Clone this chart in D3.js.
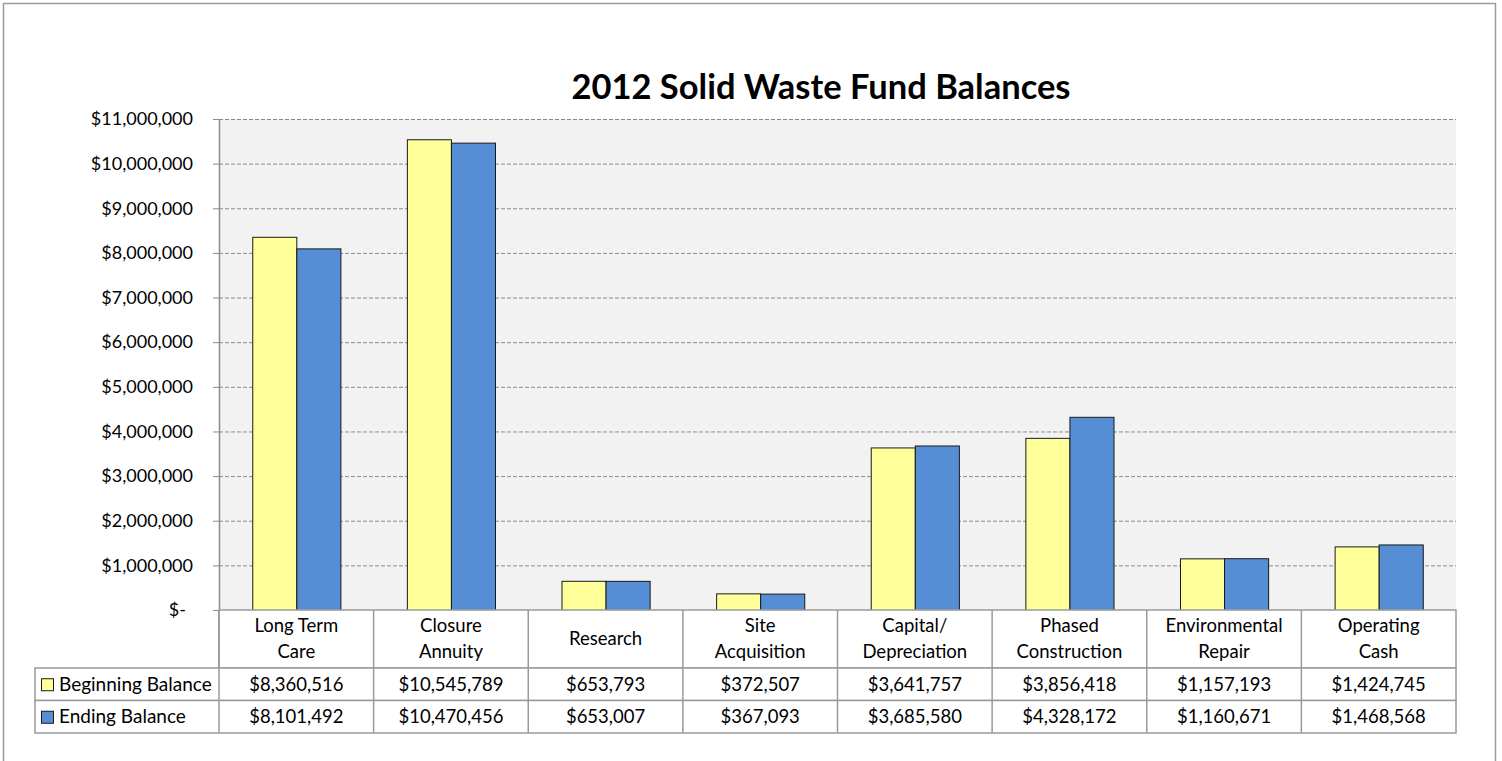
<!DOCTYPE html>
<html>
<head>
<meta charset="utf-8">
<script src="https://cdn.jsdelivr.net/npm/d3@7"></script>
<style>
    body { margin: 0; background: #fff; }
    text { font-family: Lato, "Open Sans", sans-serif; fill: #000; }
</style>
</head>
<body>
<div id="chart"></div>
<script>
// Chart data
const categories = [
    "Long Term\nCare",
    "Closure\nAnnuity",
    "Research",
    "Site\nAcquisition",
    "Capital/\nDepreciation",
    "Phased\nConstruction",
    "Environmental\nRepair",
    "Operating\nCash",
];
const seriesNames = ["Beginning Balance", "Ending Balance"];
const beginning = [8360516, 10545789, 653793, 372507, 3641757, 3856418, 1157193, 1424745];
const ending = [8101492, 10470456, 653007, 367093, 3685580, 4328172, 1160671, 1468568];
const yTicks = [0, 1e6, 2e6, 3e6, 4e6, 5e6, 6e6, 7e6, 8e6, 9e6, 10e6, 11e6];
const colors = ["#FFFF99", "#558ED5"];
const title = "2012 Solid Waste Fund Balances";

let width = 1502,
    height = 761,
    plot = { left: 219, right: 1456, top: 119, bottom: 610 };

const svg = d3
    .select("#chart")
    .append("svg")
    .attr("width", width)
    .attr("height", height);

// Outer chart border (bottom edge runs off the picture)
svg.append("rect")
    .attr("x", 3.5)
    .attr("y", 3.5)
    .attr("width", 1492)
    .attr("height", 770)
    .attr("fill", "#fff")
    .attr("stroke", "#9a9a9a")
    .attr("stroke-width", 1.5);

svg.append("text")
    .attr("x", 821)
    .attr("y", 99)
    .attr("text-anchor", "middle")
    .style("font-size", "34.5px")
    .style("font-weight", "bold")
    .text(title);

// Plot background
svg.append("rect")
    .attr("x", plot.left)
    .attr("y", plot.top)
    .attr("width", plot.right - plot.left)
    .attr("height", plot.bottom - plot.top)
    .attr("fill", "#F2F2F2");

let x0 = d3
    .scaleBand()
    .domain(categories)
    .range([plot.left, plot.right])
    .padding(0);

let x1 = d3
    .scaleBand()
    .domain(seriesNames)
    .range([x0.bandwidth() * 0.215, x0.bandwidth() * 0.785]);

let y = d3
    .scaleLinear()
    .domain([0, 11e6])
    .range([plot.bottom, plot.top]);

// Gridlines
const grid = svg.append("g")
    .attr("transform", `translate(${plot.left},0)`)
    .call(d3.axisLeft(y).tickValues(yTicks.slice(1)).tickSize(-(plot.right - plot.left)).tickFormat(""));
grid.select(".domain").remove();
grid.selectAll("line")
    .attr("stroke", "#8c8c8c")
    .attr("stroke-dasharray", "4,2");

// Y axis
const money = d3.format(",");
const yAxis = svg.append("g")
    .attr("transform", `translate(${plot.left},0)`)
    .call(
        d3.axisLeft(y)
            .tickValues(yTicks)
            .tickSize(6)
            .tickPadding(20)
            .tickSizeOuter(0)
            .tickFormat((d) => (d === 0 ? "$-" : "$" + money(d)))
    );
yAxis.select(".domain").attr("stroke", "#8c8c8c").attr("stroke-width", 1.5);
yAxis.selectAll(".tick line").attr("stroke", "#8c8c8c");
yAxis.selectAll("text")
    .style("font-size", "18px")
    .attr("font-family", null);
yAxis.selectAll(".tick")
    .filter((d) => d === 0)
    .select("text")
    .attr("x", -33);

// Bars
const rows = categories.map((c, i) => ({
    category: c,
    values: [beginning[i], ending[i]],
}));

svg.append("g")
    .selectAll("g")
    .data(rows)
    .join("g")
    .attr("transform", (d) => `translate(${x0(d.category)},0)`)
    .selectAll("rect")
    .data((d) => d.values.map((v, j) => ({ series: seriesNames[j], value: v, j })))
    .join("rect")
    .attr("x", (d) => x1(d.series) + 0.5)
    .attr("y", (d) => y(d.value) + 0.5)
    .attr("width", x1.bandwidth())
    .attr("height", (d) => y(0) - y(d.value))
    .attr("fill", (d) => colors[d.j])
    .attr("stroke", "#1a1a1a")
    .attr("stroke-width", 1);

// Data table
const tableTop = plot.bottom,
    catRowH = 58,
    rowH = 32.5,
    legendLeft = 35,
    lineColor = "#9a9a9a",
    fontSize = "18.5px";
const table = svg.append("g");

// category row
table.append("rect")
    .attr("x", plot.left)
    .attr("y", tableTop)
    .attr("width", plot.right - plot.left)
    .attr("height", catRowH)
    .attr("fill", "#fff")
    .attr("stroke", lineColor)
    .attr("stroke-width", 1.5);

// value rows
seriesNames.forEach((s, j) => {
    const top = tableTop + catRowH + j * rowH;
    table.append("rect")
        .attr("x", legendLeft)
        .attr("y", top)
        .attr("width", plot.right - legendLeft)
        .attr("height", rowH)
        .attr("fill", "#fff")
        .attr("stroke", lineColor)
        .attr("stroke-width", 1.5);
});

// vertical separators
table.append("g")
    .selectAll("line")
    .data(categories)
    .join("line")
    .attr("x1", (d) => x0(d))
    .attr("x2", (d) => x0(d))
    .attr("y1", tableTop)
    .attr("y2", tableTop + catRowH + 2 * rowH)
    .attr("stroke", lineColor)
    .attr("stroke-width", 1.5);

// category labels
table.append("g")
    .selectAll("text")
    .data(categories)
    .join("text")
    .attr("text-anchor", "middle")
    .style("font-size", fontSize)
    .each(function (d) {
        const lines = d.split("\n");
        const cy = tableTop + catRowH / 2;
        const start = cy - ((lines.length - 1) * 26) / 2;
        d3.select(this)
            .selectAll("tspan")
            .data(lines)
            .join("tspan")
            .attr("x", x0(d) + x0.bandwidth() / 2)
            .attr("y", (l, k) => start + k * 26)
            .attr("dy", "0.35em")
            .text((l) => l);
    });

// legend + values
seriesNames.forEach((s, j) => {
    const cy = tableTop + catRowH + j * rowH + rowH / 2;
    table.append("rect")
        .attr("x", 41.5)
        .attr("y", cy - 5.5)
        .attr("width", 12)
        .attr("height", 12)
        .attr("fill", colors[j])
        .attr("stroke", "#1a1a1a");
    table.append("text")
        .attr("x", 59)
        .attr("y", cy)
        .attr("dy", "0.35em")
        .style("font-size", "19px")
        .text(s);
    const vals = j === 0 ? beginning : ending;
    table.append("g")
        .selectAll("text")
        .data(categories)
        .join("text")
        .attr("x", (d) => x0(d) + x0.bandwidth() / 2)
        .attr("y", cy)
        .attr("dy", "0.35em")
        .attr("text-anchor", "middle")
        .style("font-size", fontSize)
        .text((d, i) => "$" + money(vals[i]));
});
</script>
</body>
</html>
